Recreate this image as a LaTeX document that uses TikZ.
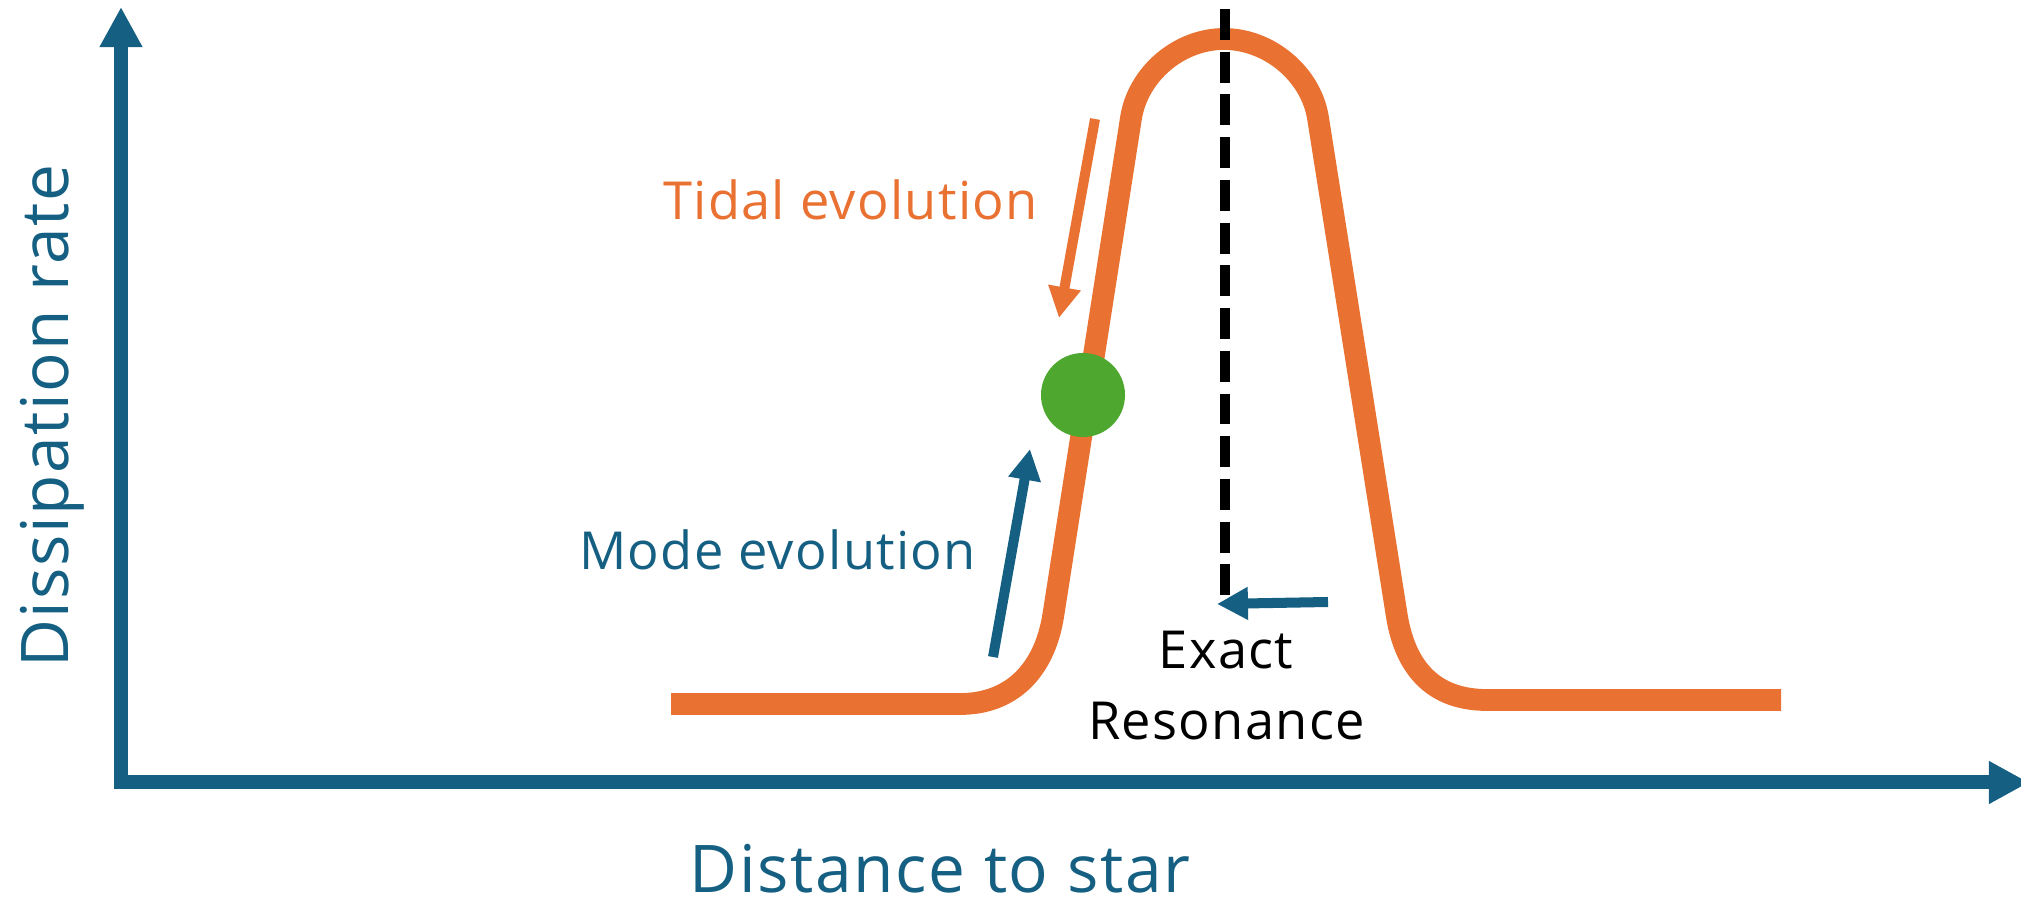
\documentclass[tikz,border=0pt]{standalone}
\usepackage{fontspec}
\setmainfont{Open Sans}[LetterSpace=2.5]
\usetikzlibrary{arrows.meta}
\definecolor{cblue}{HTML}{156082}
\definecolor{corange}{HTML}{E97132}
\definecolor{cgreen}{HTML}{4EA72E}
\begin{document}
\begin{tikzpicture}[x=0.01cm,y=-0.01cm,
  axisline/.style={draw=cblue, line width=3.98pt, miter limit=10,
    {Triangle[length=11.4pt,width=11.4pt]}-{Triangle[length=11.4pt,width=11.4pt]}},
  curveline/.style={draw=corange, line width=6.2pt},
  thinarrow/.style={line width=2.85pt, -{Triangle[length=8.8pt,width=8.8pt]}},
  resline/.style={draw=black, line width=2.85pt, dash pattern=on 8.8pt off 3.35pt},
  biglabel/.style={text=cblue, inner sep=0pt, anchor=base, font=\fontsize{18.7pt}{22pt}\selectfont},
  smalllabel/.style={inner sep=0pt, anchor=base, font=\fontsize{14.9pt}{18pt}\selectfont},
  dot/.style={circle, fill=cgreen, minimum size=84*0.2845pt, inner sep=0pt}
]
\useasboundingbox (0,0) rectangle (2021,904);

% axes
\coordinate (ytip) at (121,7);
\coordinate (orig) at (121,782.5);
\coordinate (xtip) at (2029,782.5);
\draw[axisline] (ytip) -- (orig) -- (xtip);

% resonance curve
\coordinate (c0) at (671,704);
\coordinate (c1) at (960,704);
\coordinate (c2) at (1053,617);
\coordinate (c3) at (1131,118);
\coordinate (c4) at (1224,39);
\coordinate (c5) at (1318,118);
\coordinate (c6) at (1397,617);
\coordinate (c7) at (1487,700);
\coordinate (c8) at (1781,700);
\draw[curveline] (c0) -- (c1) .. controls (1012,704) and (1044,670) .. (c2)
  -- (c3) .. controls (1138,74) and (1179,39) .. (c4)
  .. controls (1269,39) and (1311,74) .. (c5)
  -- (c6) .. controls (1406,670) and (1435,700) .. (c7) -- (c8);

% exact resonance line
\coordinate (rtop) at (1225,9);
\coordinate (rbot) at (1225,595);
\draw[resline] (rtop) -- (rbot);

% green dot
\node[dot] (planet) at (1083,395) {};

% arrows
\coordinate (ta) at (1095,119);
\coordinate (tb) at (1059,318);
\draw[thinarrow, corange] (ta) -- (tb);
\coordinate (ma) at (993,657);
\coordinate (mb) at (1030,449);
\draw[thinarrow, cblue] (ma) -- (mb);
\coordinate (ea) at (1328,602);
\coordinate (eb) at (1217,604);
\draw[thinarrow, cblue] (ea) -- (eb);

% labels
\node[smalllabel, text=corange] (tidal) at (850.5,220) {Tidal evolution};
\node[smalllabel, text=cblue] (mode) at (777.5,570) {Mode evolution};
\node[smalllabel, text=black] (exact) at (1226,669) {Exact};
\node[smalllabel, text=black] (reso) at (1226.5,740) {Resonance};
\node[biglabel] (xlabel) at (940,893) {Distance to star};
\node[biglabel, rotate=90] (ylabel) at (68,416) {Dissipation rate};
\end{tikzpicture}
\end{document}
